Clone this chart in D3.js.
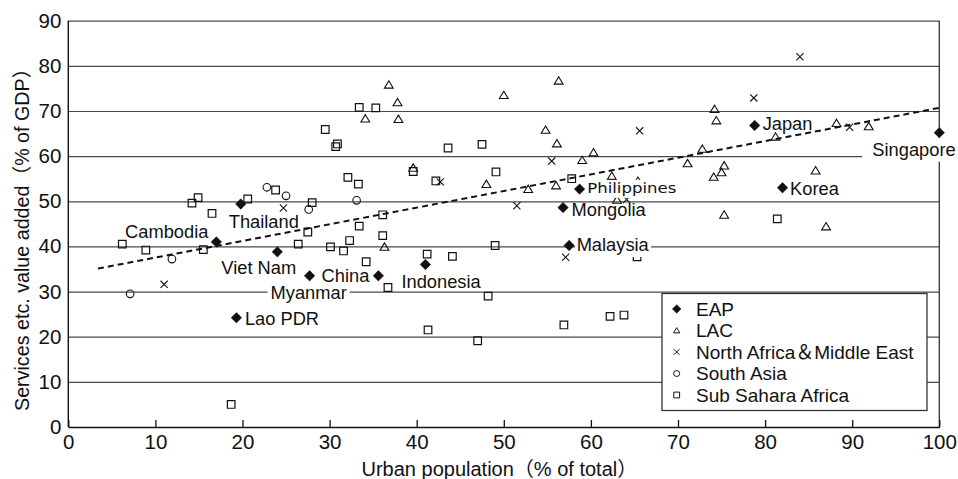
<!DOCTYPE html>
<html><head><meta charset="utf-8">
<script src="https://cdn.jsdelivr.net/npm/d3@7"></script>
<style>
html,body{margin:0;padding:0;background:#fff;}
svg{display:block;font-family:"Liberation Sans",Arial,"Noto Sans CJK JP",sans-serif;}
</style></head><body>
<svg id="chart" width="958" height="479"></svg>
<script>
// x: urban population (% of total), y: services etc. value added (% of GDP)

// East Asia & Pacific (labelled)
const eapNames = ["Thailand","Cambodia","Viet Nam","Myanmar","China","Lao PDR","Indonesia","Malaysia","Mongolia","Philippines","Korea","Japan","Singapore"];
const eapX = [19.8,17.0,24.0,27.7,35.6,19.3,41.0,57.5,56.8,58.7,82.0,78.8,100];
const eapY = [49.4,41.0,38.8,33.5,33.5,24.2,36.0,40.2,48.6,52.7,53.0,66.8,65.2];

// Latin America & Caribbean
const lacX = [36.8,37.8,34.1,37.9,50.0,56.3,54.8,56.1,59.0,60.3,39.6,48.0,52.8,56.0,62.4,63.0,65.4,74.2,74.4,88.2,91.9,81.2,72.8,71.1,75.3,75.0,74.1,85.8,75.3,87.0,36.3];
const lacY = [75.8,71.9,68.3,68.2,73.5,76.7,65.8,62.8,59.1,60.8,57.4,53.8,52.7,53.5,55.6,50.3,54.5,70.4,67.9,67.3,66.6,64.3,61.6,58.4,57.9,56.4,55.4,56.8,47.0,44.4,39.9];

// North Africa & Middle East
const menaX = [84.0,78.7,65.6,89.7,55.5,42.7,51.5,64.1,57.1,24.7,11.0];
const menaY = [82.0,72.9,65.6,66.4,58.9,54.3,49.0,50.4,37.6,48.5,31.6];

// South Asia
const saX = [22.8,25.0,27.6,33.1,11.9,7.1];
const saY = [53.1,51.2,48.2,50.2,37.2,29.5];

// Sub Sahara Africa
const ssaX = [29.5,30.7,30.9,33.4,35.3,43.6,47.5,39.6,32.1,33.3,42.2,49.1,57.8,14.2,14.9,16.5,20.6,23.8,28.0,27.5,36.1,33.4,6.2,8.9,15.5,26.4,30.1,32.3,31.6,36.1,34.2,36.7,41.2,44.1,49.0,48.2,41.3,47.0,56.9,62.2,63.8,65.3,81.4,18.7];
const ssaY = [65.9,62.1,62.7,70.8,70.7,61.8,62.6,56.6,55.3,53.8,54.5,56.5,55.0,49.6,50.8,47.3,50.5,52.5,49.7,43.2,47.0,44.5,40.5,39.2,39.3,40.5,39.9,41.3,39.0,42.4,36.6,30.9,38.3,37.8,40.2,29.0,21.5,19.1,22.6,24.5,24.8,37.7,46.1,5.0];

// fitted trend (dashed)
const trendX = [3.4, 100];
const trendY = [35.1, 70.7];

const xTicks = [0,10,20,30,40,50,60,70,80,90,100];
const yTicks = [0,10,20,30,40,50,60,70,80,90];
const legendLabels = ["EAP","LAC","North Africa\uFF06Middle East","South Asia","Sub Sahara Africa"];
const xTitle = "Urban population\uFF08% of total\uFF09";
const yTitle = "Services etc. value added\uFF08% of GDP\uFF09";

// ---- layout ----
const X0 = 68.3, X1 = 939.3, Y0 = 427, Y1 = 20.7;
const x = d3.scaleLinear().domain([0,100]).range([X0, X1]);
const y = d3.scaleLinear().domain([0,90]).range([Y0, Y1]);

// label placement relative to its point (px)
const labelPos = {
  "Thailand":   {dx:-12, dy:24, anchor:"start"},
  "Cambodia":   {dx:-8, dy:-4, anchor:"end"},
  "Viet Nam":   {dx:-56, dy:22, anchor:"start"},
  "Myanmar":    {dx:-39, dy:23, anchor:"start", box:[3,3]},
  "China":      {dx:-9, dy:6, anchor:"end"},
  "Lao PDR":    {dx:8.5, dy:7, anchor:"start"},
  "Indonesia":  {dx:-24, dy:23.5, anchor:"start"},
  "Malaysia":   {dx:7.5, dy:5.5, anchor:"start", box:[1.5,1.5]},
  "Mongolia":   {dx:8.5, dy:8, anchor:"start"},
  "Philippines":{dx:7.7, dy:3.8, anchor:"start", box:[2,2], small:true},
  "Korea":      {dx:7.5, dy:7.2, anchor:"start"},
  "Japan":      {dx:8, dy:4.5, anchor:"start"},
  "Singapore":  {dx:-67, dy:23, anchor:"start", box:[10,3]}
};

const svg = d3.select("#chart");

// horizontal grid + y labels
const yAxis = d3.axisLeft(y).tickValues(yTicks).tickSizeInner(-(X1-X0)).tickSizeOuter(0).tickPadding(7).tickFormat(d3.format("d"));
const gy = svg.append("g").attr("transform",`translate(${X0},0)`).call(yAxis);
gy.select(".domain").remove();
gy.selectAll(".tick line").attr("stroke","#4a4a4a").attr("stroke-width",1.2);
gy.selectAll(".tick text").attr("font-size",20.5).attr("fill","#111")
  .attr("font-family","'Liberation Sans',Arial,sans-serif");

// right frame
svg.append("line").attr("x1",X1).attr("x2",X1).attr("y1",Y0).attr("y2",Y1)
  .attr("stroke","#333").attr("stroke-width",1.3);

// axes lines
svg.append("line").attr("x1",X0).attr("x2",X0).attr("y1",Y0).attr("y2",Y1)
  .attr("stroke","#111").attr("stroke-width",1.4);

const xAxis = d3.axisBottom(x).tickValues(xTicks).tickSizeInner(-7).tickSizeOuter(0).tickPadding(7).tickFormat(d3.format("d"));
const gx = svg.append("g").attr("transform",`translate(0,${Y0})`).call(xAxis);
gx.select(".domain").attr("stroke","#111").attr("stroke-width",1.4);
gx.selectAll(".tick line").attr("stroke","#111").attr("stroke-width",1.3);
gx.selectAll(".tick text").attr("font-size",20.5).attr("fill","#111")
  .attr("font-family","'Liberation Sans',Arial,sans-serif");

// axis titles
svg.append("text").attr("x",361.5).attr("y",476).attr("text-anchor","start")
  .attr("font-size",20).attr("fill","#111").text(xTitle);
svg.append("text").attr("transform",`translate(28.5,411) rotate(-90)`)
  .attr("text-anchor","start").attr("font-size",19.7).attr("fill","#111").text(yTitle);

// trend line
svg.append("line").attr("x1",x(trendX[0])).attr("y1",y(trendY[0]))
  .attr("x2",x(trendX[1])).attr("y2",y(trendY[1]))
  .attr("stroke","#111").attr("stroke-width",2).attr("stroke-dasharray","6,4");

// marker shapes
const shapes = {
  diamond: s => `M0,${-s}L${s},0L0,${s}L${-s},0Z`,
  triangle: s => `M0,${-s*0.95}L${s*1.05},${s*0.8}L${-s*1.05},${s*0.8}Z`,
  square: s => `M${-s},${-s}H${s}V${s}H${-s}Z`,
  cross: s => `M${-s},${-s}L${s},${s}M${s},${-s}L${-s},${s}`
};

function drawPath(g, xs, ys, path, opts) {
  g.selectAll(null).data(xs.map((v,i)=>[v, ys[i]])).join("path")
    .attr("transform", d => `translate(${x(d[0])},${y(d[1])})`)
    .attr("d", path)
    .attr("fill", opts.fill || "none")
    .attr("stroke", "#111")
    .attr("stroke-width", opts.sw || 1.1);
}

const gm = svg.append("g");
drawPath(gm, ssaX, ssaY, shapes.square(3.8), {sw:1.2});
drawPath(gm, lacX, lacY, shapes.triangle(4.2), {sw:1.1});
drawPath(gm, menaX, menaY, shapes.cross(3.6), {sw:1.1});
gm.selectAll(null).data(saX.map((v,i)=>[v, saY[i]])).join("circle")
  .attr("cx", d=>x(d[0])).attr("cy", d=>y(d[1])).attr("r",3.8)
  .attr("fill","none").attr("stroke","#111").attr("stroke-width",1.1);

// country labels
const gl = svg.append("g");
eapNames.forEach((name,i) => {
  const p = labelPos[name];
  const px = x(eapX[i]) + p.dx, py = y(eapY[i]) + p.dy;
  const g = gl.append("g");
  const t = g.append("text").attr("x",px).attr("y",py).attr("text-anchor",p.anchor)
    .attr("fill","#111").text(name);
  if (p.small) {
    t.attr("font-size",14).attr("font-family","'DejaVu Sans',Verdana,sans-serif")
     .attr("textLength",89).attr("lengthAdjust","spacingAndGlyphs");
  } else {
    t.attr("font-size",18.3);
  }
  if (p.box) {
    const b = t.node().getBBox();
    g.insert("rect","text").attr("x",b.x-p.box[0]).attr("y",b.y-p.box[1]+2)
      .attr("width",b.width+p.box[0]+p.box[1]).attr("height",b.height+p.box[1])
      .attr("fill","#fff");
  }
});

// EAP diamonds on top
drawPath(svg.append("g"), eapX, eapY, shapes.diamond(5.2), {fill:"#111", sw:0.6});

// legend
const lg = svg.append("g").attr("transform","translate(662,293.5)");
lg.append("rect").attr("width",265).attr("height",117).attr("fill","#fff")
  .attr("stroke","#333").attr("stroke-width",1.3);
const legendShapes = [
  {d:shapes.diamond(4.3), fill:"#111"},
  {d:shapes.triangle(3)},
  {d:shapes.cross(2.8)},
  {circle:true},
  {d:shapes.square(2.9)}
];
legendLabels.forEach((lab,i) => {
  const cy = 15.5 + i*21.5;
  const s = legendShapes[i];
  if (s.circle) {
    lg.append("circle").attr("cx",14.7).attr("cy",cy).attr("r",3)
      .attr("fill","none").attr("stroke","#111").attr("stroke-width",1);
  } else {
    lg.append("path").attr("transform",`translate(14.7,${cy})`).attr("d",s.d)
      .attr("fill",s.fill||"none").attr("stroke","#111").attr("stroke-width",s.fill?0.5:1);
  }
  lg.append("text").attr("x",34).attr("y",cy+6.8).attr("font-size",19)
    .attr("fill","#111").text(lab);
});
</script>
</body></html>
